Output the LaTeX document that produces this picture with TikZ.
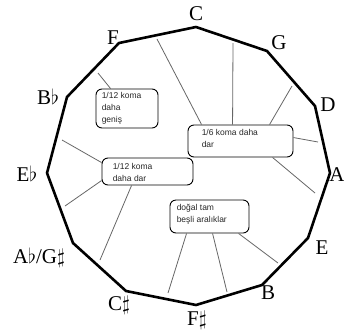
\documentclass[tikz,border=0pt]{standalone}
\usepackage{fontspec}
\setmainfont{Liberation Serif}
\newfontfamily\boxfont{Liberation Sans}
\usetikzlibrary{calc}
\begin{document}
\begin{tikzpicture}[x=1pt,y=-1pt,
  rim/.style={line width=2.6pt, line join=round},
  spoke/.style={draw=black!60, line width=0.8pt},
  notebox/.style={draw, line width=0.9pt, rounded corners=6pt, inner sep=0pt},
  notetext/.style={font=\boxfont\fontsize{8.5}{12}\selectfont, align=left, inner sep=0pt, anchor=north west, text=black!85},
  key/.style={font=\fontsize{21}{21}\selectfont, inner sep=0pt}]
\useasboundingbox (0,0) rectangle (344,335);
% polygon vertices
\coordinate (vC) at (196,27);
\coordinate (vG) at (267,51);
\coordinate (vD) at (315,106);
\coordinate (vA) at (330,173);
\coordinate (vE) at (308,238);
\coordinate (vB) at (262,285);
\coordinate (vFs) at (196,305);
\coordinate (vCs) at (126,291);
\coordinate (vAb) at (73,243);
\coordinate (vEb) at (47,173);
\coordinate (vBb) at (67,97);
\coordinate (vF) at (119,43);
\draw[rim] (vC) -- (vG) -- (vD) -- (vA) -- (vE) -- (vB) -- (vFs) -- (vCs) -- (vAb) -- (vEb) -- (vBb) -- (vF) -- cycle;
% labels
\node[key] (lC) at (196,14) {C};
\node[key] (lG) at (279,43) {G};
\node[key] (lD) at (328,105) {D};
\node[key] (lA) at (337,175) {A};
\node[key] (lE) at (322,248) {E};
\node[key] (lB) at (268,293) {B};
\node[key] (lFs) at (197,320) {F$\sharp$};
\node[key] (lCs) at (119,305) {C$\sharp$};
\node[key] (lAb) at (39,258) {A$\flat$/G$\sharp$};
\node[key] (lEb) at (27,174) {E$\flat$};
\node[key] (lBb) at (48,97) {B$\flat$};
\node[key] (lF) at (113,38) {F};
% boxes
\node[notebox, minimum width=62pt, minimum height=39pt] (b1) at (127,108.5) {};
\node[notebox, minimum width=91pt, minimum height=27pt] (b2) at (147.5,171.5) {};
\node[notebox, minimum width=105pt, minimum height=32pt] (b3) at (240.5,141) {};
\node[notebox, minimum width=79pt, minimum height=33pt] (b4) at (209.5,216.5) {};
\node[notetext] (t1) at ($(b1.north west)+(6,3.5)$) {1/12 koma\\daha\\geniş};
\node[notetext] (t2) at ($(b2.north west)+(11,5.5)$) {1/12 koma\\daha dar};
\node[notetext] (t3) at ($(b3.north west)+(14,4.5)$) {1/6 koma daha\\dar};
\node[notetext] (t4) at ($(b4.north west)+(7,4.5)$) {doğal tam\\beşli aralıklar};
% spoke ends
\coordinate (s1) at (98,73);
\coordinate (s2) at (157,39);
\coordinate (s3) at (233,43);
\coordinate (s4) at (292,86);
\coordinate (s5) at (318,142);
\coordinate (s6) at (315,193);
\coordinate (s7) at (62,140);
\coordinate (s8) at (65,206);
\coordinate (s9) at (100,260);
\coordinate (s10) at (168,293);
\coordinate (s11) at (227,292);
\coordinate (s12) at (278,263);
\draw[spoke] (s1) -- ($(b1.north west)+(15,0)$);
\draw[spoke] (s2) -- ($(b3.north west)+(14,0)$);
\draw[spoke] (s3) -- ($(b3.north west)+(45,0)$);
\draw[spoke] (s4) -- ($(b3.north west)+(82,0)$);
\draw[spoke] (s5) -- ($(b3.north east)+(0,13)$);
\draw[spoke] (s6) -- ($(b3.south west)+(85,0)$);
\draw[spoke] (s7) -- ($(b2.north west)+(0,5)$);
\draw[spoke] (s8) -- ($(b2.north west)+(0,23)$);
\draw[spoke] (s9) -- ($(b2.south west)+(30,0)$);
\draw[spoke] (s10) -- ($(b4.south west)+(17,0)$);
\draw[spoke] (s11) -- ($(b4.south west)+(43,0)$);
\draw[spoke] (s12) -- ($(b4.south west)+(69,0)$);
\end{tikzpicture}
\end{document}
